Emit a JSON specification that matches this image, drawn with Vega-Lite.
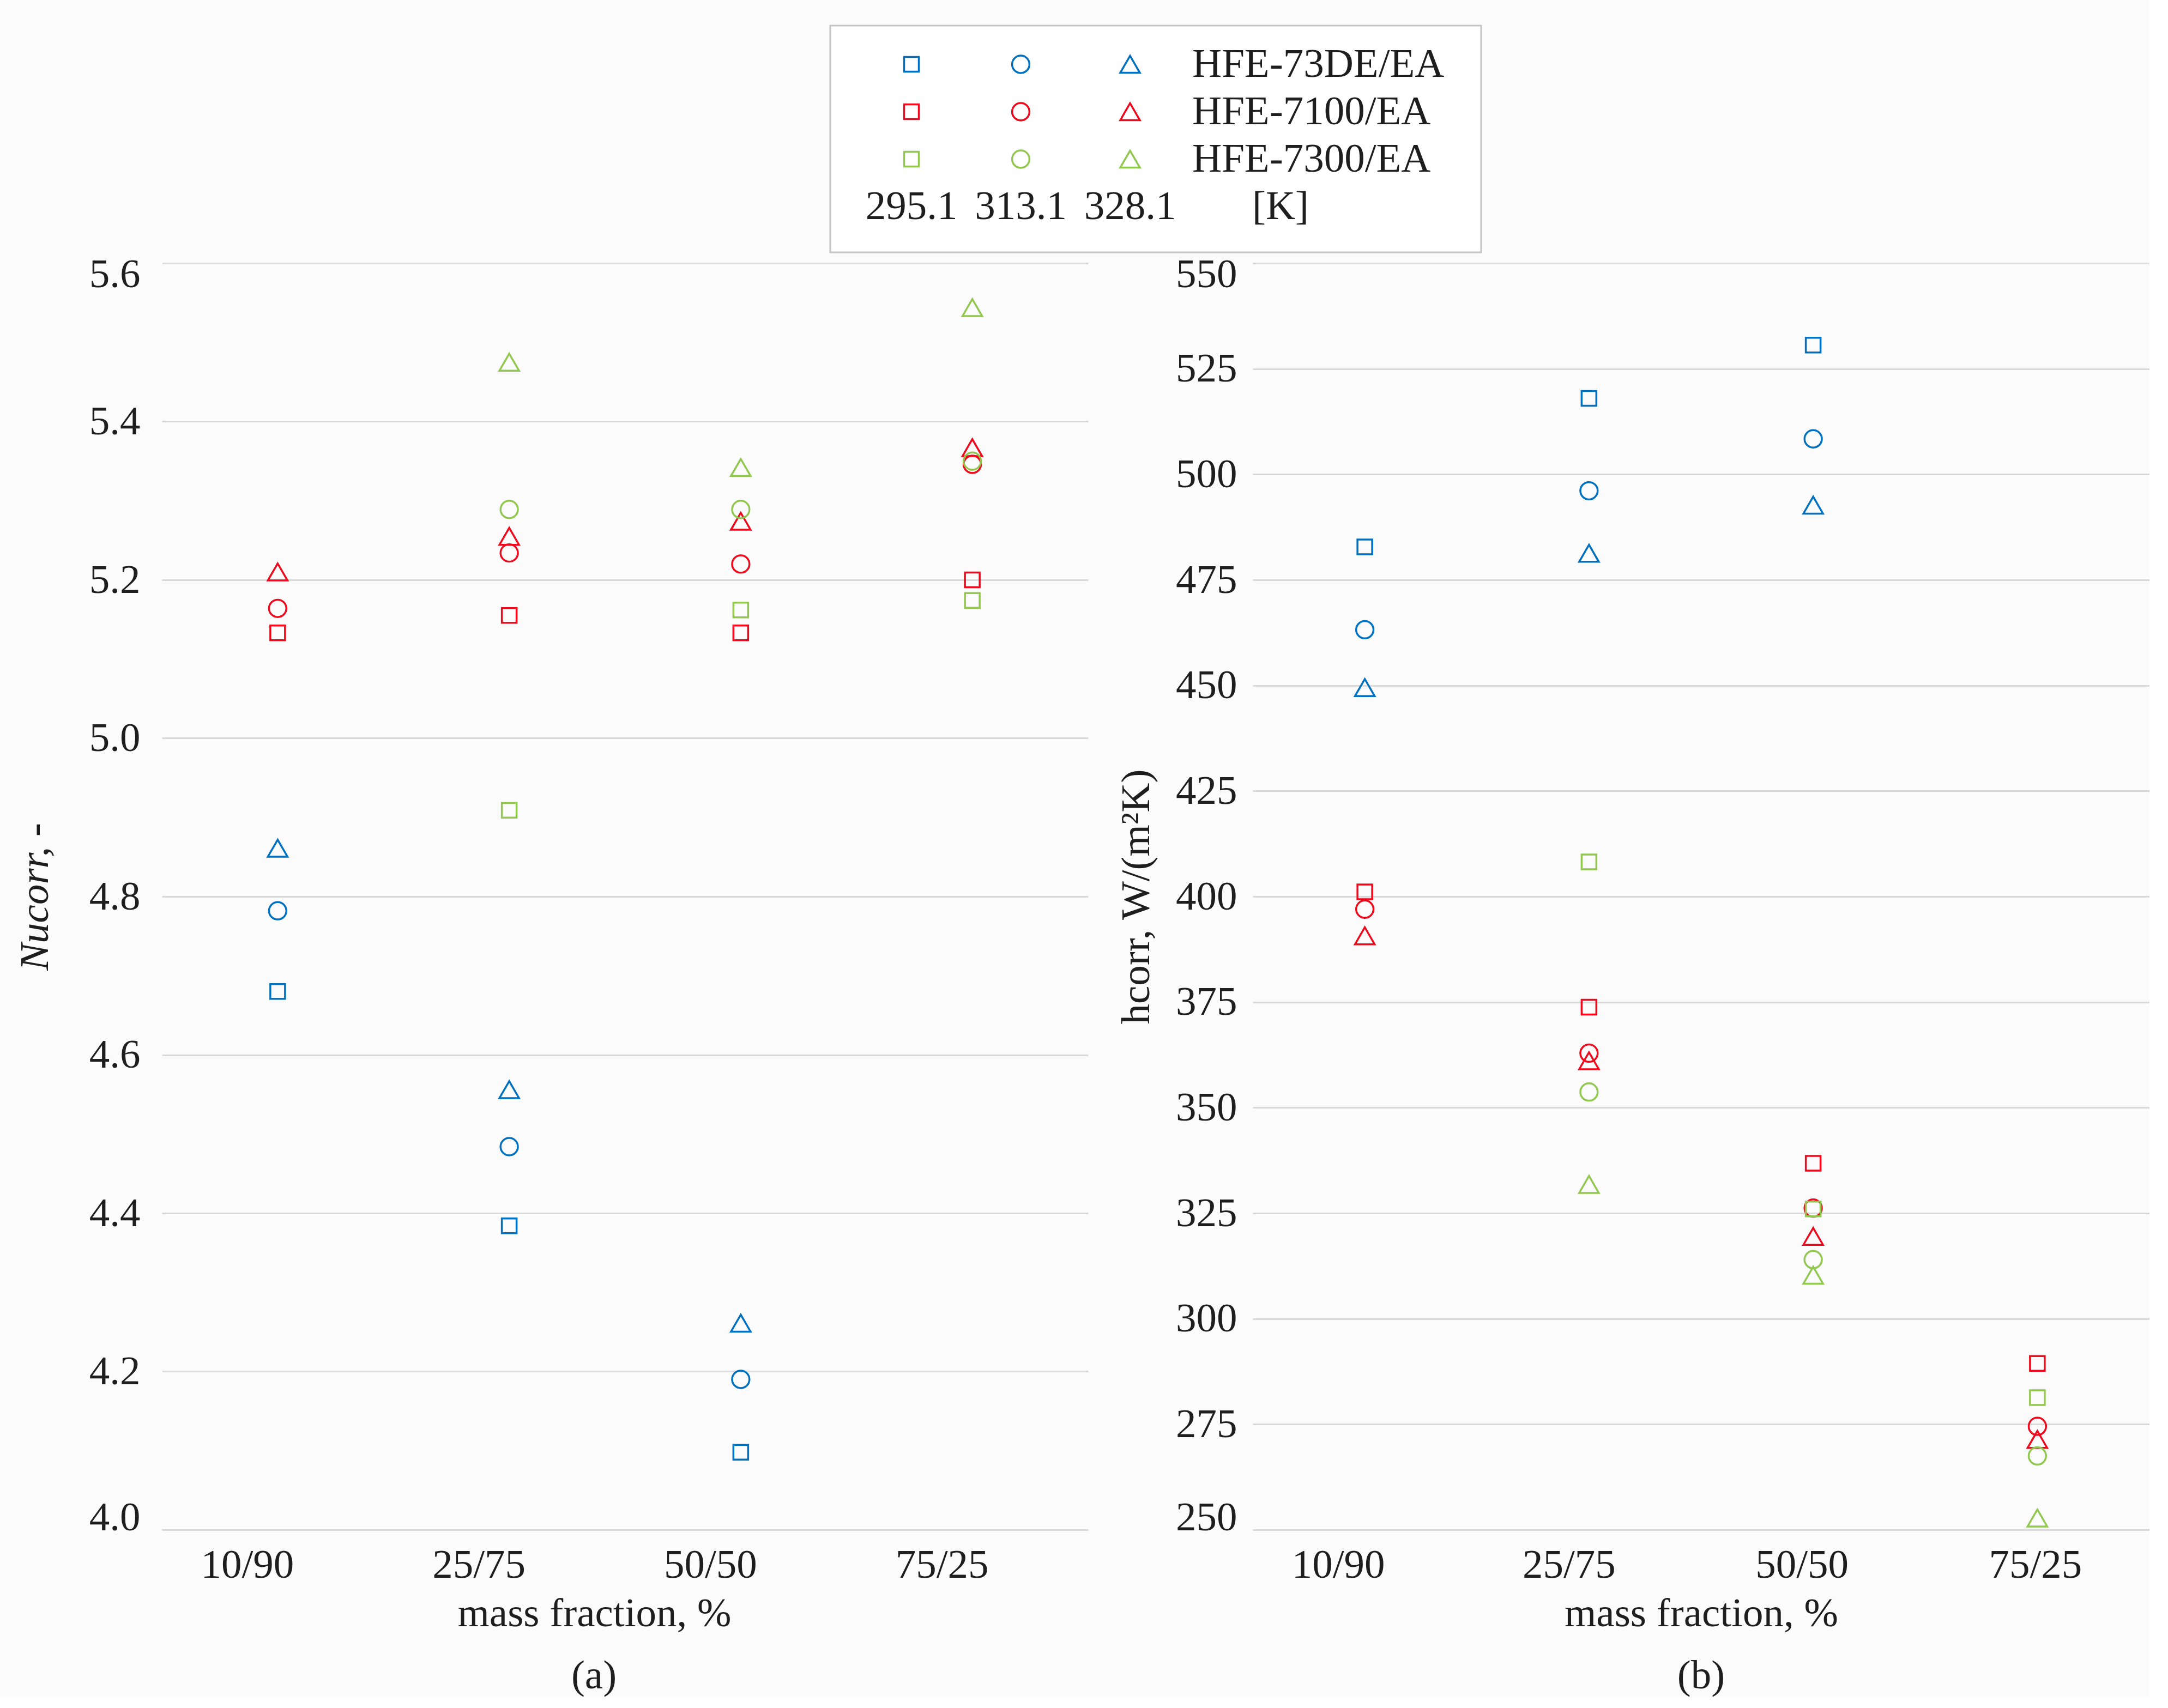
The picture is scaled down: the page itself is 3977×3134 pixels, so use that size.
{
  "$schema": "https://vega.github.io/schema/vega-lite/v6.json",
  "background": "#fbfbfb",
  "padding": {"left": 27, "top": 45, "right": 0, "bottom": 0},
  "datasets": {
    "main": [
      {"mix": "10/90", "fluid": "HFE-73DE/EA", "temp": "295.1", "Nu": 4.680, "h": 482.8},
      {"mix": "10/90", "fluid": "HFE-73DE/EA", "temp": "313.1", "Nu": 4.782, "h": 463.2},
      {"mix": "10/90", "fluid": "HFE-73DE/EA", "temp": "328.1", "Nu": 4.861, "h": 449.5},
      {"mix": "25/75", "fluid": "HFE-73DE/EA", "temp": "295.1", "Nu": 4.384, "h": 518.0},
      {"mix": "25/75", "fluid": "HFE-73DE/EA", "temp": "313.1", "Nu": 4.484, "h": 496.1},
      {"mix": "25/75", "fluid": "HFE-73DE/EA", "temp": "328.1", "Nu": 4.556, "h": 481.3},
      {"mix": "50/50", "fluid": "HFE-73DE/EA", "temp": "295.1", "Nu": 4.098, "h": 530.6},
      {"mix": "50/50", "fluid": "HFE-73DE/EA", "temp": "313.1", "Nu": 4.190, "h": 508.4},
      {"mix": "50/50", "fluid": "HFE-73DE/EA", "temp": "328.1", "Nu": 4.261, "h": 492.7},
      {"mix": "10/90", "fluid": "HFE-7100/EA", "temp": "295.1", "Nu": 5.133, "h": 401.1},
      {"mix": "10/90", "fluid": "HFE-7100/EA", "temp": "313.1", "Nu": 5.164, "h": 397.0},
      {"mix": "10/90", "fluid": "HFE-7100/EA", "temp": "328.1", "Nu": 5.210, "h": 390.7},
      {"mix": "25/75", "fluid": "HFE-7100/EA", "temp": "295.1", "Nu": 5.155, "h": 373.8},
      {"mix": "25/75", "fluid": "HFE-7100/EA", "temp": "313.1", "Nu": 5.234, "h": 362.9},
      {"mix": "25/75", "fluid": "HFE-7100/EA", "temp": "328.1", "Nu": 5.255, "h": 361.1},
      {"mix": "50/50", "fluid": "HFE-7100/EA", "temp": "295.1", "Nu": 5.133, "h": 336.8},
      {"mix": "50/50", "fluid": "HFE-7100/EA", "temp": "313.1", "Nu": 5.220, "h": 326.2},
      {"mix": "50/50", "fluid": "HFE-7100/EA", "temp": "328.1", "Nu": 5.274, "h": 319.5},
      {"mix": "75/25", "fluid": "HFE-7100/EA", "temp": "295.1", "Nu": 5.200, "h": 289.4},
      {"mix": "75/25", "fluid": "HFE-7100/EA", "temp": "313.1", "Nu": 5.346, "h": 274.5},
      {"mix": "75/25", "fluid": "HFE-7100/EA", "temp": "328.1", "Nu": 5.367, "h": 271.4},
      {"mix": "25/75", "fluid": "HFE-7300/EA", "temp": "295.1", "Nu": 4.909, "h": 408.2},
      {"mix": "25/75", "fluid": "HFE-7300/EA", "temp": "313.1", "Nu": 5.289, "h": 353.7},
      {"mix": "25/75", "fluid": "HFE-7300/EA", "temp": "328.1", "Nu": 5.475, "h": 331.8},
      {"mix": "50/50", "fluid": "HFE-7300/EA", "temp": "295.1", "Nu": 5.162, "h": 326.0},
      {"mix": "50/50", "fluid": "HFE-7300/EA", "temp": "313.1", "Nu": 5.289, "h": 314.0},
      {"mix": "50/50", "fluid": "HFE-7300/EA", "temp": "328.1", "Nu": 5.342, "h": 310.3},
      {"mix": "75/25", "fluid": "HFE-7300/EA", "temp": "295.1", "Nu": 5.174, "h": 281.3},
      {"mix": "75/25", "fluid": "HFE-7300/EA", "temp": "313.1", "Nu": 5.350, "h": 267.5},
      {"mix": "75/25", "fluid": "HFE-7300/EA", "temp": "328.1", "Nu": 5.544, "h": 252.8}
    ]
  },
  "spacing": 1,
  "vconcat": [
    {
      "spacing": 0,
      "hconcat": [
        {
          "width": 1224,
          "height": 416,
          "data": {"values": []},
          "mark": "point"
        },
        {
          "width": 1194,
          "height": 416,
          "view": {"stroke": "#c4c4c4", "strokeWidth": 3, "fill": "#ffffff"},
          "data": {"name": "main"},
          "transform": [{"aggregate": [{"op": "count", "as": "n"}], "groupby": ["fluid", "temp"]}],
          "encoding": {
            "x": {
              "field": "temp",
              "type": "ordinal",
              "scale": {"type": "point", "padding": 0, "domain": ["295.1", "313.1", "328.1"], "range": [149, 550]},
              "axis": null
            },
            "y": {
              "field": "fluid",
              "type": "nominal",
              "scale": {"type": "point", "padding": 0, "domain": ["HFE-73DE/EA", "HFE-7100/EA", "HFE-7300/EA", "T"], "range": [71, 332]},
              "axis": null
            }
          },
          "layer": [
            {
              "mark": {"type": "point", "filled": false, "strokeWidth": 3.5, "opacity": 1},
              "encoding": {
                "shape": {"field": "temp", "type": "nominal", "scale": {"domain": ["295.1", "313.1", "328.1"], "range": ["square", "circle", "triangle-up"]}, "legend": null},
                "size": {"field": "temp", "type": "ordinal", "scale": {"domain": ["295.1", "313.1", "328.1"], "range": [729, 1296, 1225]}, "legend": null},
                "color": {"field": "fluid", "type": "nominal", "scale": {"domain": ["HFE-73DE/EA", "HFE-7100/EA", "HFE-7300/EA"], "range": ["#0070c0", "#ee0a1c", "#92c850"]}, "legend": null}
              }
            },
            {
              "transform": [{"filter": "datum.temp == '328.1'"}],
              "mark": {"type": "text", "align": "left", "baseline": "middle", "dx": 114, "fontSize": 75, "color": "#1e1e1e"},
              "encoding": {"text": {"field": "fluid"}}
            },
            {
              "transform": [{"filter": "datum.fluid == 'HFE-7300/EA'"}],
              "mark": {"type": "text", "align": "center", "baseline": "middle", "fontSize": 75, "color": "#1e1e1e"},
              "encoding": {"y": {"datum": "T"}, "text": {"field": "temp"}}
            },
            {
              "transform": [{"aggregate": [{"op": "count", "as": "k"}]}, {"calculate": "'[K]'", "as": "unit"}],
              "mark": {"type": "text", "align": "center", "baseline": "middle", "dx": 276, "fontSize": 75, "color": "#1e1e1e"},
              "encoding": {"x": {"datum": "328.1"}, "y": {"datum": "T"}, "text": {"field": "unit"}}
            }
          ]
        }
      ]
    },
    {
      "spacing": 51,
      "hconcat": [
        {
          "width": 1699,
          "height": 2324,
          "data": {"name": "main"},
          "title": {"text": "(a)", "orient": "bottom", "frame": "group", "anchor": "middle", "dx": -57, "offset": 41, "fontSize": 75, "font": "Liberation Serif", "fontWeight": "normal", "color": "#1e1e1e"},
          "mark": {"type": "point", "filled": false, "strokeWidth": 3.5, "opacity": 1},
          "encoding": {
            "x": {
              "field": "mix",
              "type": "ordinal",
              "scale": {"type": "point", "padding": 0.5, "domain": ["10/90", "25/75", "50/50", "75/25"]},
              "axis": {"title": "mass fraction, %", "labelOffset": -56, "labelPadding": 28, "titlePadding": 15, "titleX": 793, "grid": false, "labelAngle": 0}
            },
            "y": {
              "field": "Nu",
              "type": "quantitative",
              "scale": {"domain": [4.0, 5.6], "nice": false, "zero": false},
              "axis": {"title": "Nucorr, -", "titleFontStyle": "italic", "values": [4.0, 4.2, 4.4, 4.6, 4.8, 5.0, 5.2, 5.4, 5.6], "format": ".1f", "labelFlush": true, "labelFlushOffset": 16, "labelPadding": 40, "titlePadding": 60, "grid": true}
            },
            "shape": {"field": "temp", "type": "nominal", "scale": {"domain": ["295.1", "313.1", "328.1"], "range": ["square", "circle", "triangle-up"]}, "legend": null},
            "size": {"field": "temp", "type": "ordinal", "scale": {"domain": ["295.1", "313.1", "328.1"], "range": [729, 1296, 1225]}, "legend": null},
            "color": {"field": "fluid", "type": "nominal", "scale": {"domain": ["HFE-73DE/EA", "HFE-7100/EA", "HFE-7300/EA"], "range": ["#0070c0", "#ee0a1c", "#92c850"]}, "legend": null}
          }
        },
        {
          "width": 1645,
          "height": 2324,
          "data": {"name": "main"},
          "title": {"text": "(b)", "orient": "bottom", "frame": "group", "anchor": "middle", "offset": 41, "fontSize": 75, "font": "Liberation Serif", "fontWeight": "normal", "color": "#1e1e1e"},
          "mark": {"type": "point", "filled": false, "strokeWidth": 3.5, "opacity": 1},
          "encoding": {
            "x": {
              "field": "mix",
              "type": "ordinal",
              "scale": {"type": "point", "padding": 0.5, "domain": ["10/90", "25/75", "50/50", "75/25"]},
              "axis": {
                "title": "mass fraction, %",
                "labelOffset": {"condition": [{"test": "datum.value == '10/90'", "value": -49}, {"test": "datum.value == '25/75'", "value": -37}, {"test": "datum.value == '50/50'", "value": -21}], "value": -4},
                "labelPadding": 28,
                "titlePadding": 15,
                "grid": false,
                "labelAngle": 0
              }
            },
            "y": {
              "field": "h",
              "type": "quantitative",
              "scale": {"domain": [250, 550], "nice": false, "zero": false},
              "axis": {"title": "hcorr, W/(m²K)", "values": [250, 275, 300, 325, 350, 375, 400, 425, 450, 475, 500, 525, 550], "format": "d", "labelFlush": true, "labelFlushOffset": 16, "labelPadding": 29, "titlePadding": 33, "grid": true}
            },
            "shape": {"field": "temp", "type": "nominal", "scale": {"domain": ["295.1", "313.1", "328.1"], "range": ["square", "circle", "triangle-up"]}, "legend": null},
            "size": {"field": "temp", "type": "ordinal", "scale": {"domain": ["295.1", "313.1", "328.1"], "range": [729, 1296, 1225]}, "legend": null},
            "color": {"field": "fluid", "type": "nominal", "scale": {"domain": ["HFE-73DE/EA", "HFE-7100/EA", "HFE-7300/EA"], "range": ["#0070c0", "#ee0a1c", "#92c850"]}, "legend": null}
          }
        }
      ]
    }
  ],
  "config": {
    "font": "Liberation Serif",
    "view": {"stroke": null},
    "axis": {
      "labelFont": "Liberation Serif",
      "titleFont": "Liberation Serif",
      "labelFontSize": 75,
      "titleFontSize": 75,
      "titleFontWeight": "normal",
      "labelColor": "#1e1e1e",
      "titleColor": "#1e1e1e",
      "ticks": false,
      "domain": false,
      "gridColor": "#d9d9d9",
      "gridWidth": 3
    }
  }
}
